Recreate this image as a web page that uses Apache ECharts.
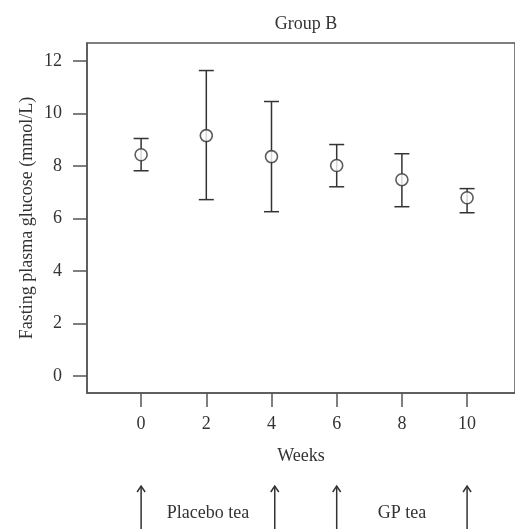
<!DOCTYPE html>
<html>
<head>
<meta charset="utf-8">
<script src="https://cdn.jsdelivr.net/npm/echarts@6/dist/echarts.min.js"></script>
<style>
  html, body { margin: 0; padding: 0; background: #fff; }
  #chart { width: 515px; height: 529px; }
</style>
</head>
<body>
<div id="chart"></div>
<script>
// values
var weeks = [0, 2, 4, 6, 8, 10];
var means = [8.43, 9.16, 8.36, 8.02, 7.48, 6.79];
var lowers = [7.82, 6.72, 6.26, 7.21, 6.45, 6.22];
var uppers = [9.05, 11.64, 10.46, 8.82, 8.47, 7.14];
var yTicks = [0, 2, 4, 6, 8, 10, 12];
var xTicks = [0, 2, 4, 6, 8, 10];
// treatment periods under the axis
var arrowWeeks = [0, 4.1, 6, 10];
var periods = [
  { label: "Placebo tea", from: 0, to: 4.1 },
  { label: "GP tea", from: 6, to: 10 }
];

var ink = "#333";
var font = "Liberation Serif";
var fs = 18;

var chart = echarts.init(document.getElementById("chart"));

var errData = weeks.map(function (w, i) {
  return [w, lowers[i], uppers[i]];
});
var pointData = weeks.map(function (w, i) {
  return [w, means[i]];
});

chart.setOption({
  animation: false,
  textStyle: { fontFamily: font, color: ink },
  title: {
    text: "Group B",
    left: 301,
    top: 10,
    textAlign: "center",
    textStyle: { fontFamily: font, fontSize: fs, fontWeight: "normal", color: ink }
  },
  grid: {
    left: 87,
    top: 43,
    right: -3,
    bottom: 136,
    show: true,
    borderColor: "#555",
    borderWidth: 1.5
  },
  xAxis: {
    type: "value",
    min: -1.66,
    max: 11.47,
    splitLine: { show: false },
    axisLine: { show: true, onZero: false, lineStyle: { color: "#555", width: 1.5 } },
    axisTick: {
      show: true,
      length: 14,
      customValues: xTicks,
      lineStyle: { color: "#555", width: 1.5 }
    },
    axisLabel: {
      customValues: xTicks,
      margin: 22,
      fontFamily: font,
      fontSize: fs,
      color: ink
    },
    name: "Weeks",
    nameLocation: "middle",
    nameGap: 54,
    nameMoveOverlap: false,
    nameTextStyle: { fontFamily: font, fontSize: fs, color: ink }
  },
  yAxis: {
    type: "value",
    min: -0.65,
    max: 12.69,
    splitLine: { show: false },
    axisLine: { show: true, onZero: false, lineStyle: { color: "#555", width: 1.5 } },
    axisTick: {
      show: true,
      length: 14,
      customValues: yTicks,
      lineStyle: { color: "#555", width: 1.5 }
    },
    axisLabel: {
      customValues: yTicks,
      margin: 25,
      fontFamily: font,
      fontSize: fs,
      color: ink
    },
    name: "Fasting plasma glucose (mmol/L)",
    nameLocation: "middle",
    nameGap: 51,
    nameMoveOverlap: false,
    nameTextStyle: { fontFamily: font, fontSize: fs, color: ink }
  },
  series: [
    {
      type: "custom",
      name: "error",
      data: errData,
      renderItem: function (params, api) {
        var lo = api.coord([api.value(0), api.value(1)]);
        var hi = api.coord([api.value(0), api.value(2)]);
        var half = 7.5;
        var st = { stroke: ink, lineWidth: 1.5 };
        return {
          type: "group",
          children: [
            { type: "line", shape: { x1: lo[0], y1: lo[1], x2: hi[0], y2: hi[1] }, style: st },
            { type: "line", shape: { x1: hi[0] - half, y1: hi[1], x2: hi[0] + half, y2: hi[1] }, style: st },
            { type: "line", shape: { x1: lo[0] - half, y1: lo[1], x2: lo[0] + half, y2: lo[1] }, style: st }
          ]
        };
      },
      z: 2
    },
    {
      type: "scatter",
      name: "mean",
      data: pointData,
      symbol: "circle",
      symbolSize: 12,
      itemStyle: { color: "#fff", borderColor: ink, borderWidth: 1.6 },
      z: 3
    }
  ]
});

// arrows and period labels below the axis, placed through the x scale
function xPix(w) {
  return chart.convertToPixel({ xAxisIndex: 0 }, w);
}
var graphics = [];
arrowWeeks.forEach(function (w) {
  var x = xPix(w);
  var st = { stroke: ink, lineWidth: 1.5, fill: null };
  graphics.push({ type: "line", shape: { x1: x, y1: 486, x2: x, y2: 529 }, style: st });
  graphics.push({ type: "polyline", shape: { points: [[x - 4, 492], [x, 486], [x + 4, 492]] }, style: st });
});
periods.forEach(function (p) {
  graphics.push({
    type: "text",
    x: (xPix(p.from) + xPix(p.to)) / 2,
    y: 513,
    style: {
      text: p.label,
      fontFamily: font,
      fontSize: fs,
      fill: ink,
      align: "center",
      verticalAlign: "middle"
    }
  });
});
chart.setOption({ graphic: graphics });
</script>
</body>
</html>
